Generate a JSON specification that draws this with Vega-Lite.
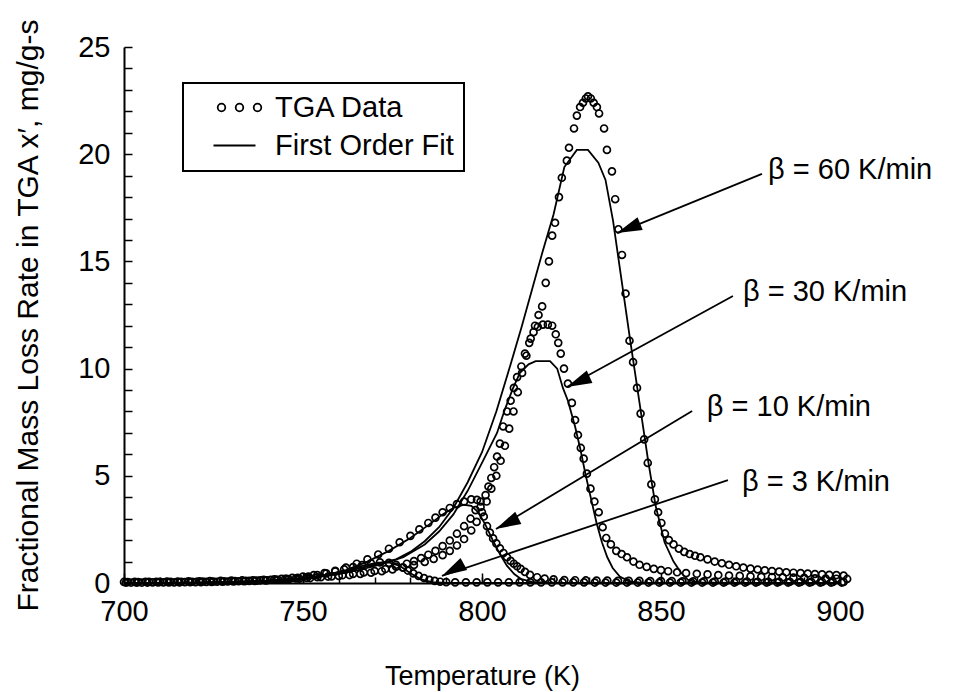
{
  "$schema": "https://vega.github.io/schema/vega-lite/v6.json",
  "width": 716,
  "height": 536,
  "autosize": {"type": "none"},
  "padding": {"left": 124, "top": 47, "right": 126, "bottom": 109},
  "background": "white",
  "config": {
    "view": {"stroke": null},
    "font": "Liberation Sans",
    "axis": {
      "grid": false,
      "domainColor": "black",
      "tickColor": "black",
      "labelColor": "black",
      "titleColor": "black",
      "labelFont": "Liberation Sans",
      "titleFont": "Liberation Sans",
      "titleFontWeight": "normal",
      "labelFlush": false
    }
  },
  "datasets": {
    "tga": [
      {"beta":60,"T":700,"rate":0.05},{"beta":60,"T":703,"rate":0.05},{"beta":60,"T":706,"rate":0.06},{"beta":60,"T":709,"rate":0.06},{"beta":60,"T":712,"rate":0.07},{"beta":60,"T":715,"rate":0.07},{"beta":60,"T":718,"rate":0.08},{"beta":60,"T":721,"rate":0.08},{"beta":60,"T":724,"rate":0.09},{"beta":60,"T":727,"rate":0.1},{"beta":60,"T":730,"rate":0.11},{"beta":60,"T":733,"rate":0.12},{"beta":60,"T":736,"rate":0.13},{"beta":60,"T":739,"rate":0.15},{"beta":60,"T":742,"rate":0.17},{"beta":60,"T":745,"rate":0.19},{"beta":60,"T":748,"rate":0.21},{"beta":60,"T":751,"rate":0.24},{"beta":60,"T":754,"rate":0.27},{"beta":60,"T":757,"rate":0.3},{"beta":60,"T":760,"rate":0.33},{"beta":60,"T":763,"rate":0.37},{"beta":60,"T":766,"rate":0.42},{"beta":60,"T":769,"rate":0.48},{"beta":60,"T":772,"rate":0.55},{"beta":60,"T":775,"rate":0.63},{"beta":60,"T":778,"rate":0.72},{"beta":60,"T":781,"rate":0.84},{"beta":60,"T":784,"rate":0.98},{"beta":60,"T":786.5,"rate":1.12},{"beta":60,"T":789,"rate":1.3},{"beta":60,"T":791,"rate":1.5},{"beta":60,"T":793,"rate":1.75},{"beta":60,"T":795,"rate":2.05},{"beta":60,"T":797,"rate":2.45},{"beta":60,"T":798.5,"rate":2.85},{"beta":60,"T":800,"rate":3.3},{"beta":60,"T":801.3,"rate":3.8},{"beta":60,"T":802.6,"rate":4.4},{"beta":60,"T":804,"rate":5.0},{"beta":60,"T":805.2,"rate":5.7},{"beta":60,"T":806.4,"rate":6.4},{"beta":60,"T":807.6,"rate":7.2},{"beta":60,"T":808.8,"rate":8.0},{"beta":60,"T":810,"rate":8.9},{"beta":60,"T":811.2,"rate":9.8},{"beta":60,"T":812.4,"rate":10.6},{"beta":60,"T":813.6,"rate":11.4},{"beta":60,"T":814.8,"rate":12.0},{"beta":60,"T":815.8,"rate":12.5},{"beta":60,"T":816.8,"rate":12.9},{"beta":60,"T":817.8,"rate":14.0},{"beta":60,"T":818.7,"rate":15.0},{"beta":60,"T":819.6,"rate":16.2},{"beta":60,"T":820.4,"rate":16.8},{"beta":60,"T":821.5,"rate":18.0},{"beta":60,"T":822.3,"rate":18.9},{"beta":60,"T":823.7,"rate":19.7},{"beta":60,"T":824.3,"rate":20.3},{"beta":60,"T":825.7,"rate":21.2},{"beta":60,"T":826.5,"rate":21.8},{"beta":60,"T":827.4,"rate":22.2},{"beta":60,"T":828.2,"rate":22.4},{"beta":60,"T":829,"rate":22.6},{"beta":60,"T":829.6,"rate":22.7},{"beta":60,"T":830.4,"rate":22.6},{"beta":60,"T":831.2,"rate":22.4},{"beta":60,"T":832.1,"rate":22.2},{"beta":60,"T":832.7,"rate":21.9},{"beta":60,"T":834.1,"rate":21.2},{"beta":60,"T":834.9,"rate":20.2},{"beta":60,"T":836.3,"rate":19.2},{"beta":60,"T":837.2,"rate":17.9},{"beta":60,"T":838.1,"rate":16.5},{"beta":60,"T":839.1,"rate":15.3},{"beta":60,"T":840.1,"rate":13.5},{"beta":60,"T":841.2,"rate":11.3},{"beta":60,"T":842.2,"rate":10.3},{"beta":60,"T":843.3,"rate":9.1},{"beta":60,"T":844.3,"rate":7.9},{"beta":60,"T":845.3,"rate":6.7},{"beta":60,"T":846.3,"rate":5.6},{"beta":60,"T":847.3,"rate":4.6},{"beta":60,"T":848.3,"rate":3.9},{"beta":60,"T":849.2,"rate":3.3},{"beta":60,"T":850.1,"rate":2.8},{"beta":60,"T":851.1,"rate":2.3},{"beta":60,"T":852.2,"rate":2.0},{"beta":60,"T":853.5,"rate":1.8},{"beta":60,"T":855,"rate":1.6},{"beta":60,"T":856.5,"rate":1.45},{"beta":60,"T":858,"rate":1.35},{"beta":60,"T":859.5,"rate":1.27},{"beta":60,"T":861,"rate":1.2},{"beta":60,"T":863,"rate":1.1},{"beta":60,"T":865,"rate":1.0},{"beta":60,"T":867,"rate":0.92},{"beta":60,"T":869,"rate":0.85},{"beta":60,"T":871,"rate":0.78},{"beta":60,"T":873,"rate":0.72},{"beta":60,"T":875,"rate":0.67},{"beta":60,"T":877,"rate":0.63},{"beta":60,"T":879,"rate":0.59},{"beta":60,"T":881,"rate":0.56},{"beta":60,"T":883,"rate":0.53},{"beta":60,"T":885,"rate":0.5},{"beta":60,"T":887,"rate":0.48},{"beta":60,"T":889,"rate":0.46},{"beta":60,"T":891,"rate":0.44},{"beta":60,"T":893,"rate":0.42},{"beta":60,"T":895,"rate":0.4},{"beta":60,"T":897,"rate":0.38},{"beta":60,"T":899,"rate":0.37},{"beta":60,"T":901,"rate":0.35},
      {"beta":30,"T":701,"rate":0.04},{"beta":30,"T":704,"rate":0.04},{"beta":30,"T":707,"rate":0.05},{"beta":30,"T":710,"rate":0.05},{"beta":30,"T":713,"rate":0.05},{"beta":30,"T":716,"rate":0.06},{"beta":30,"T":719,"rate":0.06},{"beta":30,"T":722,"rate":0.07},{"beta":30,"T":725,"rate":0.07},{"beta":30,"T":728,"rate":0.08},{"beta":30,"T":731,"rate":0.09},{"beta":30,"T":734,"rate":0.1},{"beta":30,"T":737,"rate":0.11},{"beta":30,"T":740,"rate":0.13},{"beta":30,"T":743,"rate":0.15},{"beta":30,"T":746,"rate":0.17},{"beta":30,"T":749,"rate":0.2},{"beta":30,"T":752,"rate":0.23},{"beta":30,"T":755,"rate":0.27},{"beta":30,"T":758,"rate":0.31},{"beta":30,"T":761,"rate":0.36},{"beta":30,"T":764,"rate":0.42},{"beta":30,"T":767,"rate":0.49},{"beta":30,"T":770,"rate":0.56},{"beta":30,"T":773,"rate":0.65},{"beta":30,"T":776,"rate":0.76},{"beta":30,"T":779,"rate":0.9},{"beta":30,"T":781,"rate":1.02},{"beta":30,"T":783,"rate":1.16},{"beta":30,"T":785,"rate":1.32},{"beta":30,"T":787,"rate":1.5},{"beta":30,"T":789,"rate":1.72},{"beta":30,"T":791,"rate":1.98},{"beta":30,"T":793,"rate":2.3},{"beta":30,"T":795,"rate":2.65},{"beta":30,"T":796.8,"rate":3.0},{"beta":30,"T":798.2,"rate":3.4},{"beta":30,"T":799.6,"rate":3.8},{"beta":30,"T":801,"rate":4.1},{"beta":30,"T":801.8,"rate":4.5},{"beta":30,"T":802.6,"rate":4.9},{"beta":30,"T":803.4,"rate":5.4},{"beta":30,"T":804.2,"rate":5.9},{"beta":30,"T":805,"rate":6.5},{"beta":30,"T":805.9,"rate":7.3},{"beta":30,"T":807,"rate":8.0},{"beta":30,"T":808,"rate":8.5},{"beta":30,"T":808.9,"rate":9.1},{"beta":30,"T":809.8,"rate":9.6},{"beta":30,"T":811,"rate":10.1},{"beta":30,"T":812,"rate":10.7},{"beta":30,"T":813.2,"rate":11.2},{"beta":30,"T":814.4,"rate":11.7},{"beta":30,"T":815.6,"rate":11.95},{"beta":30,"T":817,"rate":12.05},{"beta":30,"T":818.4,"rate":12.05},{"beta":30,"T":819.6,"rate":12.0},{"beta":30,"T":820.6,"rate":11.6},{"beta":30,"T":821.3,"rate":11.2},{"beta":30,"T":822,"rate":10.7},{"beta":30,"T":822.9,"rate":10.0},{"beta":30,"T":824,"rate":9.3},{"beta":30,"T":825.1,"rate":8.4},{"beta":30,"T":826,"rate":7.6},{"beta":30,"T":826.8,"rate":6.9},{"beta":30,"T":827.6,"rate":6.3},{"beta":30,"T":828.4,"rate":5.8},{"beta":30,"T":829.3,"rate":5.1},{"beta":30,"T":830.3,"rate":4.4},{"beta":30,"T":831.4,"rate":3.8},{"beta":30,"T":832.6,"rate":3.3},{"beta":30,"T":833.7,"rate":2.6},{"beta":30,"T":834.7,"rate":2.1},{"beta":30,"T":836,"rate":1.8},{"beta":30,"T":837.5,"rate":1.5},{"beta":30,"T":839,"rate":1.35},{"beta":30,"T":840.5,"rate":1.2},{"beta":30,"T":842.3,"rate":1.0},{"beta":30,"T":844,"rate":0.85},{"beta":30,"T":846,"rate":0.75},{"beta":30,"T":848,"rate":0.66},{"beta":30,"T":850,"rate":0.6},{"beta":30,"T":852,"rate":0.55},{"beta":30,"T":854.5,"rate":0.5},{"beta":30,"T":857,"rate":0.46},{"beta":30,"T":860,"rate":0.43},{"beta":30,"T":863,"rate":0.4},{"beta":30,"T":866,"rate":0.37},{"beta":30,"T":869,"rate":0.35},{"beta":30,"T":872,"rate":0.33},{"beta":30,"T":875,"rate":0.31},{"beta":30,"T":878,"rate":0.29},{"beta":30,"T":881,"rate":0.28},{"beta":30,"T":884,"rate":0.26},{"beta":30,"T":887,"rate":0.25},{"beta":30,"T":890,"rate":0.24},{"beta":30,"T":893,"rate":0.22},{"beta":30,"T":896,"rate":0.21},{"beta":30,"T":899,"rate":0.2},{"beta":30,"T":902,"rate":0.19},
      {"beta":10,"T":702,"rate":0.02},{"beta":10,"T":705,"rate":0.02},{"beta":10,"T":708,"rate":0.03},{"beta":10,"T":711,"rate":0.03},{"beta":10,"T":714,"rate":0.03},{"beta":10,"T":717,"rate":0.04},{"beta":10,"T":720,"rate":0.04},{"beta":10,"T":723,"rate":0.05},{"beta":10,"T":726,"rate":0.06},{"beta":10,"T":729,"rate":0.07},{"beta":10,"T":732,"rate":0.08},{"beta":10,"T":735,"rate":0.1},{"beta":10,"T":738,"rate":0.12},{"beta":10,"T":741,"rate":0.15},{"beta":10,"T":744,"rate":0.19},{"beta":10,"T":747,"rate":0.24},{"beta":10,"T":750,"rate":0.3},{"beta":10,"T":753,"rate":0.37},{"beta":10,"T":756,"rate":0.46},{"beta":10,"T":759,"rate":0.57},{"beta":10,"T":762,"rate":0.72},{"beta":10,"T":765,"rate":0.9},{"beta":10,"T":768,"rate":1.1},{"beta":10,"T":771,"rate":1.33},{"beta":10,"T":774,"rate":1.6},{"beta":10,"T":777,"rate":1.9},{"beta":10,"T":780,"rate":2.2},{"beta":10,"T":782.5,"rate":2.5},{"beta":10,"T":785,"rate":2.8},{"beta":10,"T":787,"rate":3.05},{"beta":10,"T":789,"rate":3.3},{"beta":10,"T":791,"rate":3.5},{"beta":10,"T":793,"rate":3.68},{"beta":10,"T":795,"rate":3.8},{"beta":10,"T":797,"rate":3.9},{"beta":10,"T":798.6,"rate":3.88},{"beta":10,"T":799.6,"rate":3.55},{"beta":10,"T":800.5,"rate":3.1},{"beta":10,"T":801.4,"rate":2.65},{"beta":10,"T":802.2,"rate":2.35},{"beta":10,"T":803.1,"rate":2.08},{"beta":10,"T":804,"rate":1.85},{"beta":10,"T":805,"rate":1.62},{"beta":10,"T":806,"rate":1.4},{"beta":10,"T":807,"rate":1.2},{"beta":10,"T":808,"rate":1.03},{"beta":10,"T":808.9,"rate":0.9},{"beta":10,"T":809.8,"rate":0.78},{"beta":10,"T":810.8,"rate":0.66},{"beta":10,"T":812,"rate":0.52},{"beta":10,"T":813.4,"rate":0.38},{"beta":10,"T":815.4,"rate":0.27},{"beta":10,"T":817.5,"rate":0.21},{"beta":10,"T":820,"rate":0.17},{"beta":10,"T":823,"rate":0.14},{"beta":10,"T":826,"rate":0.13},{"beta":10,"T":829,"rate":0.12},{"beta":10,"T":832,"rate":0.11},{"beta":10,"T":835,"rate":0.11},{"beta":10,"T":838,"rate":0.1},{"beta":10,"T":841,"rate":0.1},{"beta":10,"T":844,"rate":0.1},{"beta":10,"T":847,"rate":0.09},{"beta":10,"T":850,"rate":0.09},{"beta":10,"T":853,"rate":0.09},{"beta":10,"T":856,"rate":0.08},{"beta":10,"T":859,"rate":0.08},{"beta":10,"T":862,"rate":0.08},{"beta":10,"T":865,"rate":0.07},{"beta":10,"T":868,"rate":0.07},{"beta":10,"T":871,"rate":0.07},{"beta":10,"T":874,"rate":0.07},{"beta":10,"T":877,"rate":0.06},{"beta":10,"T":880,"rate":0.06},{"beta":10,"T":883,"rate":0.06},{"beta":10,"T":886,"rate":0.06},{"beta":10,"T":889,"rate":0.05},{"beta":10,"T":892,"rate":0.05},{"beta":10,"T":895,"rate":0.05},{"beta":10,"T":898,"rate":0.05},{"beta":10,"T":901,"rate":0.05},
      {"beta":3,"T":700.5,"rate":0.02},{"beta":3,"T":703.5,"rate":0.02},{"beta":3,"T":706.5,"rate":0.02},{"beta":3,"T":709.5,"rate":0.03},{"beta":3,"T":712.5,"rate":0.03},{"beta":3,"T":715.5,"rate":0.03},{"beta":3,"T":718.5,"rate":0.04},{"beta":3,"T":721.5,"rate":0.04},{"beta":3,"T":724.5,"rate":0.05},{"beta":3,"T":727.5,"rate":0.06},{"beta":3,"T":730.5,"rate":0.07},{"beta":3,"T":733.5,"rate":0.08},{"beta":3,"T":736.5,"rate":0.1},{"beta":3,"T":739.5,"rate":0.12},{"beta":3,"T":742.5,"rate":0.15},{"beta":3,"T":745.5,"rate":0.19},{"beta":3,"T":748.5,"rate":0.24},{"beta":3,"T":751.5,"rate":0.3},{"beta":3,"T":754,"rate":0.37},{"beta":3,"T":756.5,"rate":0.45},{"beta":3,"T":759,"rate":0.54},{"beta":3,"T":761.5,"rate":0.64},{"beta":3,"T":764,"rate":0.74},{"beta":3,"T":766.5,"rate":0.84},{"beta":3,"T":769,"rate":0.92},{"beta":3,"T":771.5,"rate":0.96},{"beta":3,"T":774,"rate":0.94},{"beta":3,"T":776,"rate":0.85},{"beta":3,"T":777.8,"rate":0.72},{"beta":3,"T":779.3,"rate":0.58},{"beta":3,"T":780.8,"rate":0.45},{"beta":3,"T":782.3,"rate":0.33},{"beta":3,"T":783.8,"rate":0.23},{"beta":3,"T":785.3,"rate":0.15},{"beta":3,"T":786.8,"rate":0.1},{"beta":3,"T":788.3,"rate":0.06},{"beta":3,"T":790,"rate":0.04},{"beta":3,"T":792.5,"rate":0.03},{"beta":3,"T":795.5,"rate":0.03},{"beta":3,"T":798.5,"rate":0.03},{"beta":3,"T":801.5,"rate":0.03},{"beta":3,"T":804.5,"rate":0.03},{"beta":3,"T":807.5,"rate":0.03},{"beta":3,"T":810.5,"rate":0.03},{"beta":3,"T":813.5,"rate":0.03},{"beta":3,"T":816.5,"rate":0.03},{"beta":3,"T":819.5,"rate":0.03},{"beta":3,"T":822.5,"rate":0.03},{"beta":3,"T":825.5,"rate":0.03},{"beta":3,"T":828.5,"rate":0.03},{"beta":3,"T":831.5,"rate":0.02},{"beta":3,"T":834.5,"rate":0.02},{"beta":3,"T":837.5,"rate":0.02},{"beta":3,"T":840.5,"rate":0.02},{"beta":3,"T":843.5,"rate":0.02},{"beta":3,"T":846.5,"rate":0.02},{"beta":3,"T":849.5,"rate":0.02},{"beta":3,"T":852.5,"rate":0.02},{"beta":3,"T":855.5,"rate":0.02},{"beta":3,"T":858.5,"rate":0.02},{"beta":3,"T":861.5,"rate":0.02},{"beta":3,"T":864.5,"rate":0.02},{"beta":3,"T":867.5,"rate":0.02},{"beta":3,"T":870.5,"rate":0.02},{"beta":3,"T":873.5,"rate":0.02},{"beta":3,"T":876.5,"rate":0.02},{"beta":3,"T":879.5,"rate":0.02},{"beta":3,"T":882.5,"rate":0.02},{"beta":3,"T":885.5,"rate":0.02},{"beta":3,"T":888.5,"rate":0.02},{"beta":3,"T":891.5,"rate":0.02},{"beta":3,"T":894.5,"rate":0.02},{"beta":3,"T":897.5,"rate":0.02},{"beta":3,"T":900.5,"rate":0.02}
    ],
    "fit": [
      {"beta":60,"T":700,"rate":0},{"beta":60,"T":710,"rate":0.01},{"beta":60,"T":720,"rate":0.02},{"beta":60,"T":730,"rate":0.05},{"beta":60,"T":740,"rate":0.12},{"beta":60,"T":748,"rate":0.22},{"beta":60,"T":754,"rate":0.32},{"beta":60,"T":760,"rate":0.48},{"beta":60,"T":766,"rate":0.7},{"beta":60,"T":772,"rate":0.95},{"beta":60,"T":776,"rate":1.1},{"beta":60,"T":780,"rate":1.45},{"beta":60,"T":784,"rate":1.95},{"beta":60,"T":788,"rate":2.6},{"beta":60,"T":792,"rate":3.5},{"beta":60,"T":796,"rate":4.7},{"beta":60,"T":800,"rate":6.1},{"beta":60,"T":804,"rate":8.0},{"beta":60,"T":808,"rate":10.2},{"beta":60,"T":811,"rate":11.9},{"beta":60,"T":814,"rate":13.7},{"beta":60,"T":817,"rate":15.5},{"beta":60,"T":820,"rate":17.2},{"beta":60,"T":823,"rate":19.4},{"beta":60,"T":826.5,"rate":20.2},{"beta":60,"T":829.6,"rate":20.2},{"beta":60,"T":832.5,"rate":19.6},{"beta":60,"T":834.5,"rate":18.8},{"beta":60,"T":836.6,"rate":16.9},{"beta":60,"T":839,"rate":14.1},{"beta":60,"T":841.5,"rate":11.2},{"beta":60,"T":844,"rate":8.4},{"beta":60,"T":846.5,"rate":5.6},{"beta":60,"T":848.5,"rate":3.6},{"beta":60,"T":851,"rate":1.9},{"beta":60,"T":853.5,"rate":1.0},{"beta":60,"T":855.5,"rate":0.5},{"beta":60,"T":857.5,"rate":0.15},{"beta":60,"T":860,"rate":0.03},{"beta":60,"T":870,"rate":0},{"beta":60,"T":885,"rate":0},{"beta":60,"T":900,"rate":0},
      {"beta":30,"T":700,"rate":0},{"beta":30,"T":710,"rate":0.01},{"beta":30,"T":720,"rate":0.02},{"beta":30,"T":730,"rate":0.05},{"beta":30,"T":740,"rate":0.1},{"beta":30,"T":748,"rate":0.18},{"beta":30,"T":754,"rate":0.27},{"beta":30,"T":760,"rate":0.42},{"beta":30,"T":766,"rate":0.62},{"beta":30,"T":772,"rate":0.88},{"beta":30,"T":778,"rate":1.2},{"beta":30,"T":784,"rate":1.8},{"beta":30,"T":788,"rate":2.4},{"beta":30,"T":792,"rate":3.2},{"beta":30,"T":796,"rate":4.3},{"beta":30,"T":800,"rate":5.6},{"beta":30,"T":804.2,"rate":7.0},{"beta":30,"T":806.4,"rate":8.1},{"beta":30,"T":808.7,"rate":9.1},{"beta":30,"T":810.6,"rate":9.8},{"beta":30,"T":813,"rate":10.2},{"beta":30,"T":815,"rate":10.35},{"beta":30,"T":819,"rate":10.35},{"beta":30,"T":821,"rate":10.0},{"beta":30,"T":822.6,"rate":9.1},{"beta":30,"T":824,"rate":8.5},{"beta":30,"T":826,"rate":7.3},{"beta":30,"T":827.4,"rate":6.3},{"beta":30,"T":829,"rate":5.0},{"beta":30,"T":830.5,"rate":3.9},{"beta":30,"T":832,"rate":2.8},{"beta":30,"T":833.5,"rate":1.9},{"beta":30,"T":835,"rate":1.2},{"beta":30,"T":836.5,"rate":0.7},{"beta":30,"T":838.5,"rate":0.3},{"beta":30,"T":841,"rate":0.08},{"beta":30,"T":845,"rate":0.01},{"beta":30,"T":860,"rate":0},{"beta":30,"T":880,"rate":0},{"beta":30,"T":900,"rate":0},
      {"beta":10,"T":700,"rate":0},{"beta":10,"T":720,"rate":0.01},{"beta":10,"T":730,"rate":0.03},{"beta":10,"T":740,"rate":0.08},{"beta":10,"T":750,"rate":0.2},{"beta":10,"T":756,"rate":0.35},{"beta":10,"T":762,"rate":0.6},{"beta":10,"T":768,"rate":1.0},{"beta":10,"T":774,"rate":1.5},{"beta":10,"T":780,"rate":2.1},{"beta":10,"T":785,"rate":2.7},{"beta":10,"T":789,"rate":3.2},{"beta":10,"T":792,"rate":3.5},{"beta":10,"T":795,"rate":3.65},{"beta":10,"T":797,"rate":3.6},{"beta":10,"T":799,"rate":3.3},{"beta":10,"T":801,"rate":2.7},{"beta":10,"T":803,"rate":2.0},{"beta":10,"T":805,"rate":1.35},{"beta":10,"T":807,"rate":0.8},{"beta":10,"T":809,"rate":0.42},{"beta":10,"T":811,"rate":0.18},{"beta":10,"T":814,"rate":0.05},{"beta":10,"T":820,"rate":0.01},{"beta":10,"T":840,"rate":0},{"beta":10,"T":870,"rate":0},{"beta":10,"T":900,"rate":0},
      {"beta":3,"T":700,"rate":0},{"beta":3,"T":720,"rate":0.01},{"beta":3,"T":730,"rate":0.03},{"beta":3,"T":740,"rate":0.08},{"beta":3,"T":750,"rate":0.2},{"beta":3,"T":756,"rate":0.35},{"beta":3,"T":762,"rate":0.58},{"beta":3,"T":767,"rate":0.82},{"beta":3,"T":771,"rate":0.95},{"beta":3,"T":774,"rate":0.96},{"beta":3,"T":777,"rate":0.8},{"beta":3,"T":780,"rate":0.45},{"beta":3,"T":783,"rate":0.17},{"beta":3,"T":786,"rate":0.04},{"beta":3,"T":790,"rate":0},{"beta":3,"T":800,"rate":0},{"beta":3,"T":850,"rate":0},{"beta":3,"T":900,"rate":0}
    ],
    "notes": [
      {"beta":60,"label":"β = 60 K/min","tipT":837.7,"tipRate":16.32,"endT":878.2,"endRate":19.08,"textT":879.9,"textRate":19.26},
      {"beta":30,"label":"β = 30 K/min","tipT":823.7,"tipRate":9.14,"endT":870.1,"endRate":13.39,"textT":872.9,"textRate":13.57},
      {"beta":10,"label":"β = 10 K/min","tipT":803.9,"tipRate":2.52,"endT":858.7,"endRate":8.02,"textT":862.8,"textRate":8.21},
      {"beta":3,"label":"β = 3 K/min","tipT":788.8,"tipRate":0.33,"endT":868.7,"endRate":4.8,"textT":872.6,"textRate":4.71}
    ]
  },
  "resolve": {"axis": {"x": "independent", "y": "independent"}},
  "layer": [
    {
      "data": {"name": "fit"},
      "mark": {"type": "line", "strokeWidth": 1.8},
      "encoding": {
        "x": {
          "field": "T", "type": "quantitative",
          "scale": {"domain": [700, 900], "nice": false, "zero": false},
          "axis": {
            "orient": "bottom",
            "values": [700, 710, 720, 730, 740, 750, 760, 770, 780, 790, 800, 810, 820, 830, 840, 850, 860, 870, 880, 890, 900],
            "tickSize": -6, "tickWidth": 1.5,
            "labels": false, "domain": false, "title": null
          }
        },
        "y": {
          "field": "rate", "type": "quantitative",
          "scale": {"domain": [0, 25], "nice": false},
          "axis": {
            "orient": "left",
            "values": [0, 1, 2, 3, 4, 5, 6, 7, 8, 9, 10, 11, 12, 13, 14, 15, 16, 17, 18, 19, 20, 21, 22, 23, 24, 25],
            "labelExpr": "datum.value % 5 === 0 ? datum.label : ''",
            "tickSize": -8, "tickWidth": 1.5, "domainWidth": 2,
            "labelFontSize": 29, "labelPadding": 22,
            "title": "Fractional Mass Loss Rate in TGA x′, mg/g-s",
            "titleFontSize": 30, "titlePadding": 34
          }
        },
        "detail": {"field": "beta", "type": "nominal"},
        "color": {
          "datum": "First Order Fit",
          "scale": {"domain": ["TGA Data", "First Order Fit"], "range": ["black", "black"]},
          "legend": {
            "orient": "none", "legendX": 59, "legendY": 36, "title": null,
            "strokeColor": "black", "padding": 10, "rowPadding": 8,
            "symbolSize": 400, "symbolOffset": 32, "labelOffset": 21,
            "labelFont": "Liberation Sans", "labelFontSize": 29, "labelColor": "black", "labelLimit": 0,
            "labelExpr": "datum.label + '\u2002\u2009'",
            "encode": {
              "legend": {"update": {"strokeWidth": {"value": 2}}},
              "symbols": {
                "update": {
                  "shape": {"signal": "datum.value === 'TGA Data' ? 'M-2.18,0a0.38,0.38 0 1,0 0.76,0a0.38,0.38 0 1,0 -0.76,0M-0.38,0a0.38,0.38 0 1,0 0.76,0a0.38,0.38 0 1,0 -0.76,0M1.42,0a0.38,0.38 0 1,0 0.76,0a0.38,0.38 0 1,0 -0.76,0' : 'M-2.6,0H1.6'"},
                  "fill": {"value": "transparent"},
                  "stroke": {"value": "black"},
                  "strokeWidth": {"value": 1.8},
                  "opacity": {"value": 1}
                }
              }
            }
          }
        }
      }
    },
    {
      "data": {"name": "tga"},
      "mark": {"type": "point", "filled": false, "size": 48, "strokeWidth": 1.7, "opacity": 1},
      "encoding": {
        "x": {
          "field": "T", "type": "quantitative",
          "axis": {
            "orient": "bottom",
            "values": [700, 750, 800, 850, 900],
            "tickSize": -10, "tickWidth": 1.5, "domainWidth": 2,
            "labelFontSize": 29, "labelPadding": 24,
            "title": "Temperature (K)", "titleFontSize": 27, "titlePadding": 37
          }
        },
        "y": {"field": "rate", "type": "quantitative", "axis": null},
        "color": {"datum": "TGA Data"}
      }
    },
    {
      "data": {"name": "notes"},
      "mark": {"type": "rule", "color": "black", "strokeWidth": 1.8},
      "encoding": {
        "x": {"field": "endT", "type": "quantitative", "axis": null},
        "y": {"field": "endRate", "type": "quantitative", "axis": null},
        "x2": {"field": "tipT"},
        "y2": {"field": "tipRate"}
      }
    },
    {
      "data": {"name": "notes"},
      "mark": {"type": "point", "shape": "M0,0L-2,-0.55L-2,0.55Z", "filled": true, "color": "black", "size": 625, "opacity": 1},
      "encoding": {
        "x": {"field": "tipT", "type": "quantitative", "axis": null},
        "y": {"field": "tipRate", "type": "quantitative", "axis": null},
        "angle": {
          "field": "beta", "type": "ordinal",
          "scale": {"domain": [60, 30, 10, 3], "range": [157.8, 151.3, 149.0, 161.5]},
          "legend": null
        }
      }
    },
    {
      "data": {"name": "notes"},
      "mark": {"type": "text", "align": "left", "baseline": "middle", "font": "Liberation Sans", "fontSize": 29, "color": "black"},
      "encoding": {
        "x": {"field": "textT", "type": "quantitative", "axis": null},
        "y": {"field": "textRate", "type": "quantitative", "axis": null},
        "text": {"field": "label"}
      }
    }
  ]
}
